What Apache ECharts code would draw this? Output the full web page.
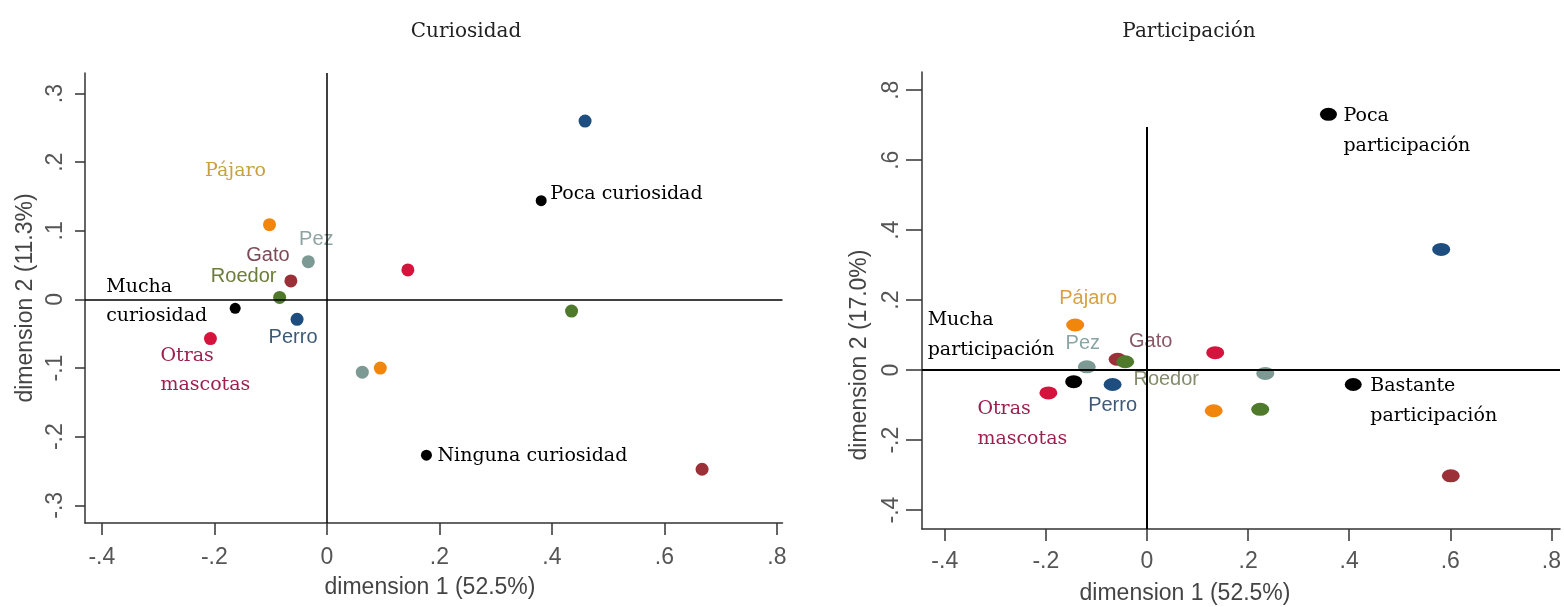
<!DOCTYPE html>
<html>
<head>
<meta charset="utf-8">
<script src="https://cdn.jsdelivr.net/npm/echarts@6/dist/echarts.min.js"></script>
<style>
html,body{margin:0;padding:0;background:#fff;}
#chart{width:1564px;height:607px;}
</style>
</head>
<body>
<div id="chart"></div>
<script>
// ---------- DATA ----------
const xTicks = [-0.4, -0.2, 0, 0.2, 0.4, 0.6, 0.8];
const yTicksLeft = [-0.3, -0.2, -0.1, 0, 0.1, 0.2, 0.3];
const yTicksRight = [-0.4, -0.2, 0, 0.2, 0.4, 0.6, 0.8];

const pets = ['Perro', 'Gato', 'Roedor', 'Pez', 'Pájaro', 'Otras mascotas'];

// Curiosidad: labelled pet points (owners) and unlabelled counterpart points
const curPetX = [-0.053, -0.064, -0.084, -0.033, -0.102, -0.207];
const curPetY = [-0.029, 0.027, 0.003, 0.055, 0.109, -0.057];
const curPetX2 = [0.459, 0.667, 0.435, 0.063, 0.095, 0.144];
const curPetY2 = [0.260, -0.2475, -0.017, -0.106, -0.100, 0.043];
const curCats = ['Mucha curiosidad', 'Poca curiosidad', 'Ninguna curiosidad'];
const curCatX = [-0.163, 0.381, 0.177];
const curCatY = [-0.013, 0.144, -0.227];

// Participación
const parPetX = [-0.068, -0.058, -0.043, -0.119, -0.142, -0.195];
const parPetY = [-0.041, 0.031, 0.024, 0.0095, 0.129, -0.065];
const parPetX2 = [0.582, 0.601, 0.224, 0.234, 0.132, 0.135];
const parPetY2 = [0.345, -0.302, -0.112, -0.0095, -0.116, 0.050];
const parCats = ['Mucha participación', 'Poca participación', 'Bastante participación'];
const parCatX = [-0.145, 0.359, 0.408];
const parCatY = [-0.033, 0.731, -0.041];

// ---------- STYLE ----------
const dotColors = ['#1d4e7f', '#9c3038', '#4f7a2c', '#7d9994', '#f0860c', '#d4143c'];
const SERIF = '"DejaVu Serif", serif';
const SANS = '"Liberation Sans", Arial, sans-serif';

// label layout per pet: [dx, dy, align, font, color, wrap]
const curPetLab = [
  [-4, 18, 'center', SANS, '#3e5a78', false],
  [-23, -25, 'center', SANS, '#7d4a58', false],
  [-36, -21, 'center', SANS, '#6b7d38', false],
  [8, -22, 'center', SANS, '#8fa3a3', false],
  [-34, -54, 'center', SERIF, '#c9a040', false],
  [-50, 32, 'left', SERIF, '#9b2050', true]
];
const curCatLab = [
  [-129, -7, true],
  [9, -7, false],
  [11, 1, false]
];
const parPetLab = [
  [0, 21, 'center', SANS, '#3e5a78', false],
  [33, -18, 'center', SANS, '#8a5868', false],
  [41, 18, 'center', SANS, '#848c6c', false],
  [-4, -23, 'center', SANS, '#8aa5a5', false],
  [13, -27, 'center', SANS, '#d9a040', false],
  [-71, 31, 'left', SERIF, '#9b2050', true]
];
const parCatLab = [
  [-146, -47, true],
  [15, 17, true],
  [17, 17, true]
];

const L = { xMin: -0.43, xMax: 0.81, yMin: -0.3258, yMax: 0.330 };
const R = { xMin: -0.445, xMax: 0.817, yMin: -0.454, yMax: 0.852 };

function fmt(v) {
  if (Math.abs(v) < 1e-9) return '0';
  return String(+v.toFixed(2)).replace('0.', '.');
}

function xAxisDef(gi, rng, tickLen, margin) {
  return {
    type: 'value', gridIndex: gi, min: rng.xMin, max: rng.xMax, position: 'bottom',
    splitLine: { show: false },
    axisLine: { show: true, onZero: false, lineStyle: { color: '#333', width: 1.5 } },
    axisTick: { show: true, customValues: xTicks, length: tickLen, lineStyle: { color: '#333', width: 1.5 } },
    axisLabel: { customValues: xTicks, formatter: fmt, margin: margin, fontSize: 23, fontFamily: SANS, color: '#555' }
  };
}
function yAxisDef(gi, rng, ticks, tickLen, margin) {
  return {
    type: 'value', gridIndex: gi, min: rng.yMin, max: rng.yMax, position: 'left',
    splitLine: { show: false },
    axisLine: { show: true, onZero: false, lineStyle: { color: '#333', width: 1.5 } },
    axisTick: { show: true, customValues: ticks, length: tickLen, lineStyle: { color: '#333', width: 1.5 } },
    axisLabel: { customValues: ticks, formatter: fmt, rotate: 90, margin: margin, fontSize: 23, fontFamily: SANS, color: '#555' }
  };
}

const ELLIPSE = 'path://M0,50 A50,50 0 1,0 100,50 A50,50 0 1,0 0,50 Z';

function petSeries(gi, xs, ys, xs2, ys2, labs, size) {
  return pets.map((p, i) => {
    const lb = labs[i];
    return {
      type: 'scatter', xAxisIndex: gi, yAxisIndex: gi, name: p,
      symbol: gi === 0 ? 'circle' : ELLIPSE, symbolSize: size,
      itemStyle: { color: dotColors[i], opacity: 1 },
      silent: true, animation: false, z: 3,
      data: [
        {
          value: [xs[i], ys[i]],
          label: {
            show: true, position: 'inside', offset: [lb[0], lb[1]], align: lb[2],
            verticalAlign: 'middle',
            formatter: lb[5] ? p.replace(' ', '\n') : p,
            fontFamily: lb[3], fontSize: lb[3] === SERIF ? 19 : 20, color: lb[4],
            lineHeight: gi === 0 ? 29 : 30
          }
        },
        { value: [xs2[i], ys2[i]], label: { show: false } }
      ]
    };
  });
}

function catSeries(gi, names, xs, ys, labs, size, markData) {
  return {
    type: 'scatter', xAxisIndex: gi, yAxisIndex: gi, name: 'cat' + gi,
    symbol: gi === 0 ? 'circle' : ELLIPSE, symbolSize: size,
    itemStyle: { color: '#000', opacity: 1 }, silent: true, animation: false, z: 4,
    data: names.map((n, i) => ({
      value: [xs[i], ys[i]],
      label: {
        show: true, position: 'inside', offset: [labs[i][0], labs[i][1]], align: 'left',
        verticalAlign: 'middle',
        formatter: labs[i][2] ? n.replace(' ', '\n') : n,
        fontFamily: SERIF, fontSize: 19, color: '#000', lineHeight: gi === 0 ? 29 : 30
      }
    })),
    markLine: {
      silent: true, animation: false, symbol: ['none', 'none'],
      label: { show: false },
      lineStyle: { color: '#000', width: gi === 0 ? 1.5 : 2, type: 'solid', opacity: 1 },
      data: markData
    }
  };
}

const chart = echarts.init(document.getElementById('chart'), null, { renderer: 'canvas' });

const option = {
  backgroundColor: '#fff',
  animation: false,
  grid: [
    { left: 85, top: 73, width: 697.5, height: 450 },
    { left: 922, top: 72, width: 638, height: 457 }
  ],
  xAxis: [xAxisDef(0, L, 12, 23), xAxisDef(1, R, 12, 21)],
  yAxis: [yAxisDef(0, L, yTicksLeft, 10, 18), yAxisDef(1, R, yTicksRight, 16, 19)],
  series: [
    ...petSeries(0, curPetX, curPetY, curPetX2, curPetY2, curPetLab, 13),
    catSeries(0, curCats, curCatX, curCatY, curCatLab, 11, [{ xAxis: 0 }, { yAxis: 0 }]),
    ...petSeries(1, parPetX, parPetY, parPetX2, parPetY2, parPetLab, [18, 13]),
    catSeries(1, parCats, parCatX, parCatY, parCatLab, [17, 13], [
      { yAxis: 0 },
      [{ coord: [0, R.yMin] }, { coord: [0, 0.695] }]
    ])
  ],
  graphic: [
    { type: 'text', x: 466, y: 32, style: { text: 'Curiosidad', fontFamily: SERIF, fontSize: 20, fill: '#222', align: 'center', verticalAlign: 'middle' } },
    { type: 'text', x: 1189, y: 32, style: { text: 'Participación', fontFamily: SERIF, fontSize: 20, fill: '#222', align: 'center', verticalAlign: 'middle' } },
    { type: 'text', x: 430, y: 588, style: { text: 'dimension 1 (52.5%)', fontFamily: SANS, fontSize: 23, fill: '#444', align: 'center', verticalAlign: 'middle' } },
    { type: 'text', x: 1185, y: 594, style: { text: 'dimension 1 (52.5%)', fontFamily: SANS, fontSize: 23, fill: '#444', align: 'center', verticalAlign: 'middle' } },
    { type: 'text', x: 26, y: 298, rotation: Math.PI / 2, style: { text: 'dimension 2 (11.3%)', fontFamily: SANS, fontSize: 23, fill: '#444', align: 'center', verticalAlign: 'middle' } },
    { type: 'text', x: 860, y: 355, rotation: Math.PI / 2, style: { text: 'dimension 2 (17.0%)', fontFamily: SANS, fontSize: 23, fill: '#444', align: 'center', verticalAlign: 'middle' } }
  ]
};
chart.setOption(option);
</script>
</body>
</html>
